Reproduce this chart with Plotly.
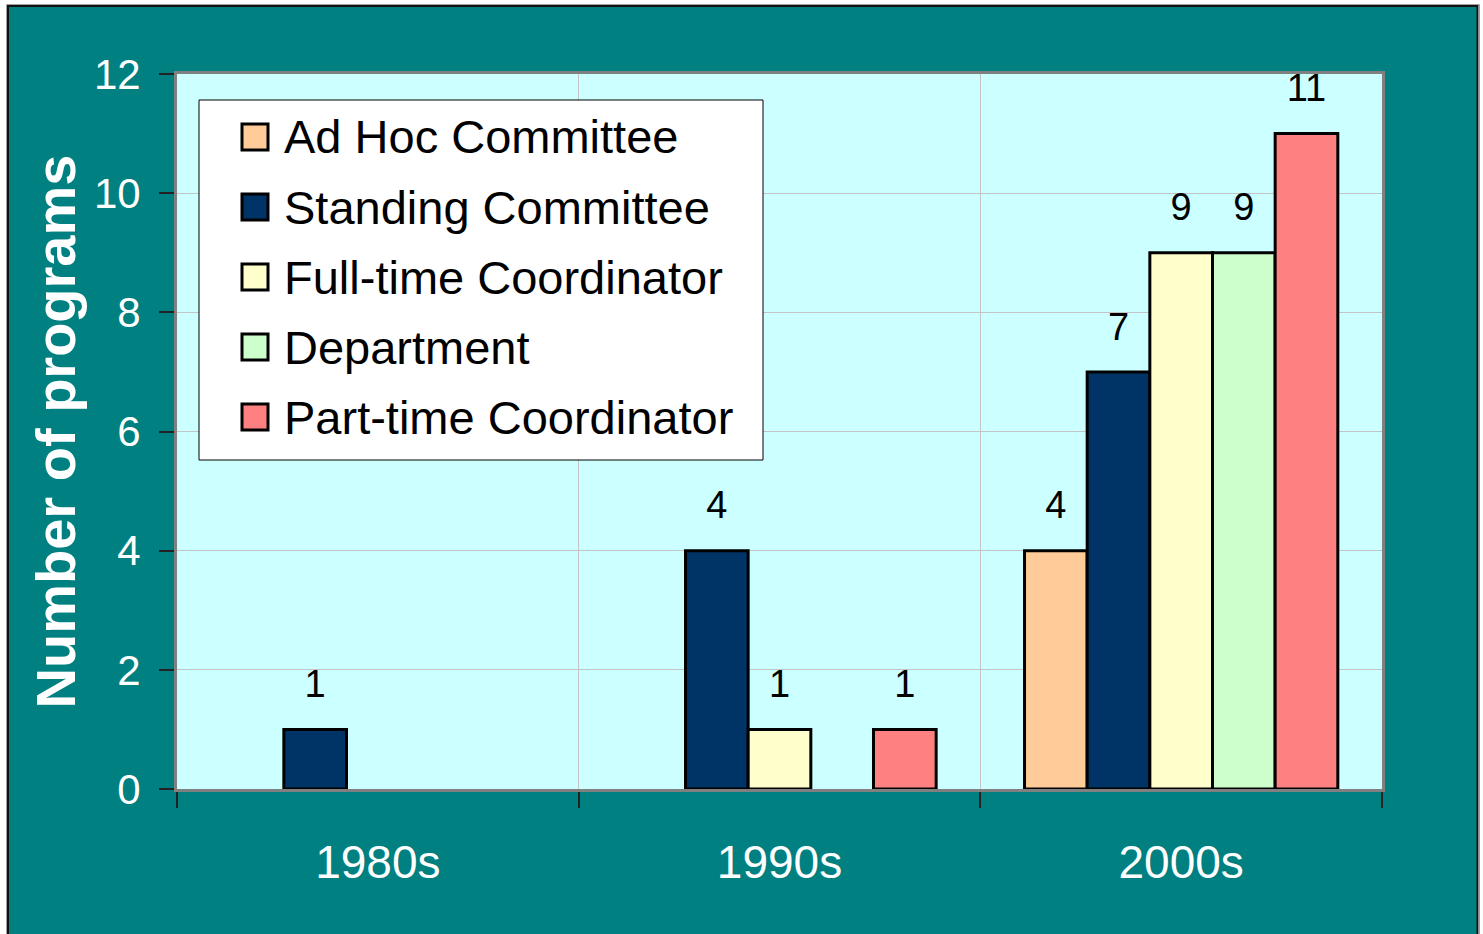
import plotly.graph_objects as go

categories = ['1980s', '1990s', '2000s']
series_names = ['Ad Hoc Committee', 'Standing Committee', 'Full-time Coordinator',
                'Department', 'Part-time Coordinator']
ad_hoc = [None, None, 4]
standing = [1, 4, 7]
full_time = [None, 1, 9]
department = [None, None, 9]
part_time = [None, 1, 11]
y_ticks = [0, 2, 4, 6, 8, 10, 12]
y_title = 'Number of programs'

series_values = [ad_hoc, standing, full_time, department, part_time]
colors = ['#FFCC99', '#003366', '#FFFFCC', '#CCFFCC', '#FF8080']

FONT = 'Liberation Sans, Arial, sans-serif'
W, H = 1483, 934
L, R, T, B = 177, 101, 74, 145
PW, PH = W - L - R, H - T - B


def px_x(px):
    return (px - L) / PW


def px_y(py):
    return (H - B - py) / PH


fig = go.Figure()
for name, vals, col in zip(series_names, series_values, colors):
    fig.add_trace(go.Bar(
        x=categories, y=vals, name=name, offsetgroup=name,
        marker=dict(color=col, line=dict(color='black', width=3)),
        showlegend=False, hoverinfo='skip',
    ))
for name, vals in zip(series_names, series_values):
    fig.add_trace(go.Scatter(
        x=categories, y=vals, mode='markers+text', orientation='v',
        text=['' if v is None else str(v) for v in vals],
        textposition='top center',
        textfont=dict(family=FONT, size=38, color='black'),
        marker=dict(size=35, opacity=0),
        offsetgroup=name,
        showlegend=False, hoverinfo='skip', cliponaxis=False,
    ))

shapes = []
annotations = []
# outer white strips and frame
shapes.append(dict(type='rect', xref='paper', yref='paper', layer='below',
                   x0=px_x(-5), x1=px_x(8), y0=px_y(H + 5), y1=px_y(-5),
                   fillcolor='white', line=dict(width=0)))
shapes.append(dict(type='rect', xref='paper', yref='paper', layer='below',
                   x0=px_x(-5), x1=px_x(W + 5), y0=px_y(6), y1=px_y(-5),
                   fillcolor='white', line=dict(width=0)))
shapes.append(dict(type='rect', xref='paper', yref='paper', layer='below',
                   x0=px_x(1478), x1=px_x(W + 5), y0=px_y(H + 5), y1=px_y(-5),
                   fillcolor='white', line=dict(width=0)))
shapes.append(dict(type='rect', xref='paper', yref='paper', layer='above',
                   x0=px_x(6.5), x1=px_x(1479.5), y0=px_y(H + 10), y1=px_y(4.5),
                   fillcolor='rgba(0,0,0,0)', line=dict(color='#A0A0A0', width=1)))
shapes.append(dict(type='rect', xref='paper', yref='paper', layer='above',
                   x0=px_x(8), x1=px_x(1477.5), y0=px_y(H + 10), y1=px_y(6),
                   fillcolor='rgba(0,0,0,0)', line=dict(color='#111111', width=2)))

# legend box
shapes.append(dict(type='rect', xref='paper', yref='paper', layer='above',
                   x0=px_x(199), x1=px_x(763), y0=px_y(460), y1=px_y(100),
                   fillcolor='white', line=dict(color='black', width=1)))
for i, (name, col) in enumerate(zip(series_names, colors)):
    cy = 137 + 70 * i
    shapes.append(dict(type='rect', xref='paper', yref='paper', layer='above',
                       x0=px_x(242), x1=px_x(268), y0=px_y(cy + 13), y1=px_y(cy - 13),
                       fillcolor=col, line=dict(color='black', width=3)))
    annotations.append(dict(xref='paper', yref='paper', x=px_x(282), y=px_y(cy),
                            xanchor='left', yanchor='middle', showarrow=False,
                            text=name, font=dict(family=FONT, size=47, color='black')))

fig.update_layout(
    width=W, height=H,
    margin=dict(l=L, r=R, t=T, b=B, pad=0),
    paper_bgcolor='#008080', plot_bgcolor='#CCFFFF',
    barmode='group', bargap=0.22, bargroupgap=0,
    scattermode='group', scattergap=0.22,
    shapes=shapes, annotations=annotations,
    showlegend=False,
    font=dict(family=FONT),
)
fig.update_xaxes(
    type='category', tickson='boundaries', ticks='outside', ticklen=16,
    tickwidth=2, tickcolor='#222222',
    showgrid=True, gridcolor='#C4C4C4', gridwidth=1,
    showline=True, linecolor='#808080', linewidth=3, mirror=True,
    tickfont=dict(family=FONT, size=46, color='white'),
    ticklabelstandoff=31,
)
fig.update_yaxes(
    range=[0, 12], tickvals=y_ticks, ticks='outside', ticklen=15,
    tickwidth=2, tickcolor='#222222',
    showgrid=True, gridcolor='#C4C4C4', gridwidth=1, zeroline=False,
    showline=True, linecolor='#808080', linewidth=3, mirror=True,
    tickfont=dict(family=FONT, size=42, color='white'),
    ticklabelstandoff=10,
    title=dict(text='<b>' + y_title + '</b>', standoff=1,
               font=dict(family=FONT, size=56, color='white')),
)

fig.write_html('out.html', config={'displayModeBar': False},
               post_script="document.body.style.margin='0';")
